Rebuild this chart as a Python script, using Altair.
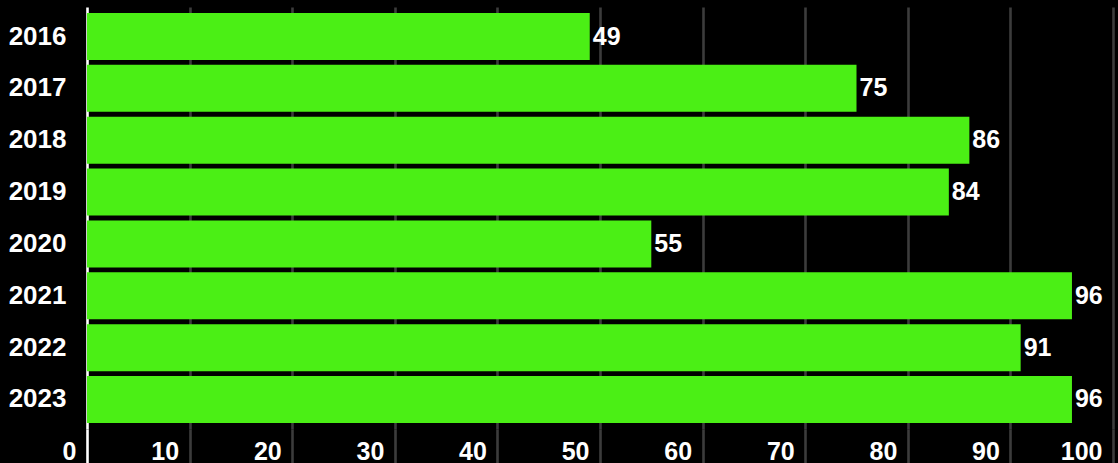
import altair as alt
import pandas as pd

years = ["2016", "2017", "2018", "2019", "2020", "2021", "2022", "2023"]
values = [49, 75, 86, 84, 55, 96, 91, 96]
x_ticks = [0, 10, 20, 30, 40, 50, 60, 70, 80, 90, 100]

df = pd.DataFrame({"year": years, "value": values})

FONT = "Liberation Sans"

x_scale = alt.Scale(domain=[0, 100], nice=False, zero=True)
y_scale = alt.Scale(domain=years, paddingInner=0.094, paddingOuter=0.116)

x_axis = alt.Axis(
    values=x_ticks,
    title=None,
    domain=False,
    grid=True,
    gridColor={"condition": {"test": "datum.value === 0", "value": "#ffffff"}, "value": "#3c3c3c"},
    gridWidth=2.6,
    ticks=True,
    tickSize=34,
    tickWidth=2.6,
    tickColor={"condition": {"test": "datum.value === 0", "value": "#ffffff"}, "value": "#3c3c3c"},
    labelAlign="right",
    labelBaseline="alphabetic",
    labelOffset=-11,
    labelPadding=-4,
    labelFont=FONT,
    labelFontSize=25,
    labelFontWeight="bold",
    labelColor="#ffffff",
    labelFlush=False,
    labelOverlap=False,
)

y_axis = alt.Axis(
    title=None,
    domain=False,
    ticks=False,
    grid=False,
    labelPadding=21,
    labelFont=FONT,
    labelFontSize=26,
    labelFontWeight="bold",
    labelColor="#ffffff",
    labelBaseline="middle",
)

base = alt.Chart(df)

bars = base.mark_bar(color="#4BEF15", cornerRadius=0).encode(
    x=alt.X("value:Q", scale=x_scale, axis=x_axis),
    y=alt.Y("year:N", scale=y_scale, axis=y_axis, sort=years),
)

labels = base.mark_text(
    align="left",
    baseline="middle",
    dx=3,
    font=FONT,
    fontSize=25,
    fontWeight="bold",
    color="#ffffff",
).encode(
    x=alt.X("value:Q", scale=x_scale),
    y=alt.Y("year:N", scale=y_scale, sort=years),
    text=alt.Text("value:Q"),
)

chart = (
    alt.layer(bars, labels)
    .properties(
        width=1026,
        height=422,
        background="#000000",
        autosize=alt.AutoSizeParams(type="none"),
        padding={"left": 87, "top": 7, "right": 5, "bottom": 34},
    )
    .configure_view(stroke=None)
)

chart.save("out.html", embed_options={"renderer": "svg", "actions": False})
